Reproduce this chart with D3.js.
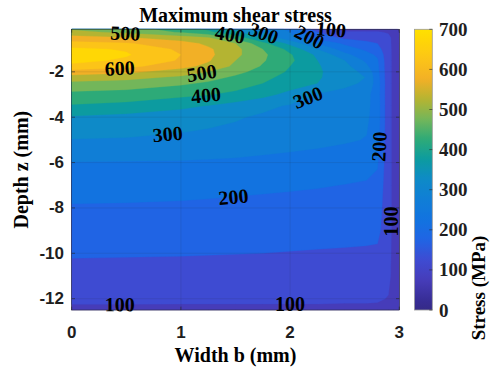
<!DOCTYPE html>
<html>
<head>
<meta charset="utf-8">
<script src="https://cdn.jsdelivr.net/npm/d3@7"></script>
<style>
  html, body { margin: 0; padding: 0; background: #fff; }
  svg { display: block; }
</style>
</head>
<body>
<svg id="chart" width="490" height="371"></svg>
<script>
// Sample positions of the stress field (rectilinear grid)
const widthB = [0, 0.5, 1.0, 1.25, 1.5, 1.75, 2.0, 2.25, 2.5, 2.7, 2.8, 2.9, 2.95, 3.0];
const depthZ = [-0.125, -0.25, -0.5, -0.75, -1.0, -1.25, -1.5, -1.75, -2.0, -2.25, -2.5,
                -3.0, -3.5, -4.0, -5.0, -6.0, -7.0, -8.0, -9.0, -10.0, -11.0, -12.0, -12.5];

// Maximum shear stress (MPa); one row per depth, one column per width position
const stressGrid = [
  [495, 475, 425, 390, 340, 280, 240, 120,  80,  78,  78,  72, 62, 45],
  [515, 488, 445, 412, 360, 295, 250, 150, 105, 105, 105,  95, 75, 50],
  [570, 555, 525, 505, 430, 345, 262, 180, 140, 135, 130, 112, 86, 55],
  [615, 605, 570, 540, 500, 415, 335, 250, 190, 160, 150, 113, 87, 55],
  [662, 645, 590, 558, 515, 450, 385, 300, 225, 190, 170, 114, 88, 55],
  [682, 655, 600, 562, 512, 460, 405, 340, 265, 215, 192, 115, 88, 55],
  [668, 640, 595, 555, 500, 455, 410, 350, 300, 240, 205, 115, 88, 55],
  [635, 615, 568, 535, 490, 445, 400, 355, 315, 258, 210, 115, 88, 55],
  [580, 562, 525, 500, 465, 430, 393, 357, 322, 285, 215, 115, 88, 55],
  [525, 515, 490, 468, 440, 412, 383, 355, 325, 298, 220, 115, 88, 55],
  [490, 480, 458, 443, 420, 400, 375, 350, 315, 290, 225, 115, 88, 55],
  [435, 428, 412, 402, 390, 365, 335, 296, 280, 265, 222, 115, 88, 55],
  [395, 385, 362, 348, 330, 312, 295, 282, 272, 262, 225, 115, 88, 55],
  [345, 335, 322, 315, 305, 292, 283, 275, 268, 258, 225, 115, 88, 55],
  [298, 296, 290, 285, 280, 274, 268, 262, 255, 248, 218, 115, 88, 55],
  [248, 247, 246, 244, 242, 238, 234, 230, 225, 218, 205, 115, 88, 55],
  [222, 220, 217, 215, 212, 209, 206, 203, 199, 195, 188, 115, 88, 55],
  [195, 194, 192, 190, 188, 186, 184, 182, 180, 178, 175, 115, 88, 55],
  [175, 174, 173, 172, 171, 170, 169, 168, 167, 166, 164, 115, 88, 55],
  [155, 154, 153, 152, 151, 150, 148, 146, 144, 142, 140, 113, 87, 55],
  [132, 131, 130, 129, 128, 127, 126, 125, 124, 123, 122, 110, 86, 55],
  [108, 108, 107, 107, 107, 107, 107, 107, 106, 106, 105,  98, 82, 52],
  [ 92,  92,  92,  92,  92,  92,  92,  92,  91,  91,  90,  88, 75, 50]
];

// Filled contour levels
const levels = [0, 50, 100, 150, 200, 250, 300, 350, 400, 450, 500, 550, 600, 650];

// Inline contour labels: level and approximate location (b, z)
const labelLevel = [500, 400, 300, 200, 100, 600, 500, 400, 300, 300, 200, 200, 100, 100, 100];
const labelB     = [0.49, 1.45, 1.75, 2.17, 2.33, 0.44, 1.19, 1.23, 0.88, 2.16, 2.82, 1.48, 2.92, 0.44, 2.0];
const labelZ     = [-0.4, -0.35, -0.4, -0.5, -0.3, -1.8, -2.05, -3.05, -4.8, -3.1, -5.3, -7.5, -8.6, -12.3, -12.3];

// Axis ticks
const xTicks = [0, 1, 2, 3];
const yTicks = [-2, -4, -6, -8, -10, -12];
const colorTicks = [0, 100, 200, 300, 400, 500, 600, 700];

// Colormap stops (MPa -> colour)
const cmapValues = [0, 25, 75, 125, 175, 225, 275, 325, 375, 425, 475, 525, 575, 625, 675, 700];
const cmapColors = ["#352a87", "#372d96", "#463cb9", "#3e4bd2", "#2064e4", "#1273e0", "#107ed6",
                    "#0e8ac8", "#0c9ba0", "#2daa78", "#73b65a", "#b4b432", "#f2b026", "#fcc418",
                    "#ffd705", "#ffe100"];

const svg = d3.select("#chart");
const plot = { left: 71.7, right: 399.3, top: 29.3, bottom: 310 };
const cbar = { left: 414.5, right: 432.3, top: 29.3, bottom: 310 };

const x = d3.scaleLinear().domain([0, 3]).range([plot.left, plot.right]);
const y = d3.scaleLinear().domain([-12.5, -0.125]).range([plot.bottom, plot.top]);
const cmap = d3.scaleLinear().domain(cmapValues).range(cmapColors).interpolate(d3.interpolateRgb).clamp(true);

// Grid index -> data coordinates (piecewise linear over the rectilinear grid)
const nx = widthB.length, ny = depthZ.length;
const bAt = d3.scaleLinear().domain(d3.range(nx)).range(widthB).clamp(true);
const zAt = d3.scaleLinear().domain(d3.range(ny)).range(depthZ).clamp(true);
const toPixel = p => [x(bAt(p[0] - 0.5)), y(zAt(p[1] - 0.5))];

const flat = stressGrid.flat();
const contourGen = d3.contours().size([nx, ny]).thresholds(levels);
const bands = contourGen(flat);

const path = d3.geoPath(d3.geoTransform({
  point(px, py) { const q = toPixel([px, py]); this.stream.point(q[0], q[1]); }
}));

// Filled bands
svg.append("g").selectAll("path")
  .data(bands)
  .join("path")
  .attr("d", path)
  .attr("fill", d => cmap(d.value + 25))
  .attr("stroke", d => cmap(d.value + 25))
  .attr("stroke-width", 0.3);

// Grid lines
const grid = svg.append("g").attr("stroke", "#262626").attr("stroke-opacity", 0.15).attr("stroke-width", 0.7);
xTicks.filter(t => t > 0 && t < 3).forEach(t => {
  grid.append("line").attr("x1", x(t)).attr("x2", x(t)).attr("y1", plot.top).attr("y2", plot.bottom);
});
yTicks.forEach(t => {
  grid.append("line").attr("x1", plot.left).attr("x2", plot.right).attr("y1", y(t)).attr("y2", y(t));
});

// Axes box and inward ticks
const axisColor = "#262626";
svg.append("rect")
  .attr("x", plot.left).attr("y", plot.top)
  .attr("width", plot.right - plot.left).attr("height", plot.bottom - plot.top)
  .attr("fill", "none").attr("stroke", axisColor).attr("stroke-width", 0.5);
const ticks = svg.append("g").attr("stroke", axisColor).attr("stroke-width", 0.6);
const tl = 3.3;
xTicks.forEach(t => {
  ticks.append("line").attr("x1", x(t)).attr("x2", x(t)).attr("y1", plot.bottom).attr("y2", plot.bottom - tl);
  ticks.append("line").attr("x1", x(t)).attr("x2", x(t)).attr("y1", plot.top).attr("y2", plot.top + tl);
});
yTicks.forEach(t => {
  ticks.append("line").attr("x1", plot.left).attr("x2", plot.left + tl).attr("y1", y(t)).attr("y2", y(t));
  ticks.append("line").attr("x1", plot.right).attr("x2", plot.right - tl).attr("y1", y(t)).attr("y2", y(t));
});

// Tick labels
const sans = "'Liberation Sans', Arial, sans-serif";
const serif = "'Liberation Serif', 'Times New Roman', serif";
svg.append("g").selectAll("text").data(xTicks).join("text")
  .attr("x", d => x(d)).attr("y", 338)
  .attr("text-anchor", "middle")
  .attr("font-family", sans).attr("font-weight", "bold").attr("font-size", 17)
  .attr("fill", "#1e1e1e")
  .text(d => d);
svg.append("g").selectAll("text").data(yTicks).join("text")
  .attr("x", 64).attr("y", d => y(d))
  .attr("text-anchor", "end").attr("dominant-baseline", "central")
  .attr("font-family", sans).attr("font-weight", "bold").attr("font-size", 17)
  .attr("fill", "#1e1e1e")
  .text(d => d);

// Titles
svg.append("text")
  .attr("x", (plot.left + plot.right) / 2).attr("y", 22)
  .attr("text-anchor", "middle")
  .attr("font-family", serif).attr("font-weight", "bold").attr("font-size", 20)
  .text("Maximum shear stress");
svg.append("text")
  .attr("x", (plot.left + plot.right) / 2).attr("y", 362)
  .attr("text-anchor", "middle")
  .attr("font-family", serif).attr("font-weight", "bold").attr("font-size", 20)
  .text("Width b (mm)");
svg.append("text")
  .attr("transform", `translate(28,${(plot.top + plot.bottom) / 2}) rotate(-90)`)
  .attr("text-anchor", "middle")
  .attr("font-family", serif).attr("font-weight", "bold").attr("font-size", 20)
  .text("Depth z (mm)");

// Contour labels, placed on the matching contour line and rotated along it
function labelPlacement(level, b, z) {
  const geom = d3.contours().size([nx, ny]).contour(flat, level);
  const tx = x(b), ty = y(z);
  const onEdge = (p, q) =>
    (Math.abs(p[0] - plot.left) < 0.01 && Math.abs(q[0] - plot.left) < 0.01) ||
    (Math.abs(p[0] - plot.right) < 0.01 && Math.abs(q[0] - plot.right) < 0.01) ||
    (Math.abs(p[1] - plot.top) < 0.01 && Math.abs(q[1] - plot.top) < 0.01) ||
    (Math.abs(p[1] - plot.bottom) < 0.01 && Math.abs(q[1] - plot.bottom) < 0.01);
  let best = null;
  geom.coordinates.forEach(poly => poly.forEach(ring => {
    const pts = ring.map(toPixel);
    const cum = [0];
    for (let i = 1; i < pts.length; i++) {
      cum.push(cum[i - 1] + Math.hypot(pts[i][0] - pts[i - 1][0], pts[i][1] - pts[i - 1][1]));
    }
    for (let i = 0; i < pts.length - 1; i++) {
      const p = pts[i], q = pts[i + 1];
      if (onEdge(p, q)) continue;
      const vx = q[0] - p[0], vy = q[1] - p[1];
      const len2 = vx * vx + vy * vy;
      if (len2 === 0) continue;
      let t = ((tx - p[0]) * vx + (ty - p[1]) * vy) / len2;
      t = Math.max(0, Math.min(1, t));
      const cx = p[0] + t * vx, cy = p[1] + t * vy;
      const d = Math.hypot(cx - tx, cy - ty);
      if (!best || d < best.d) best = { d, cx, cy, pts, cum, s: cum[i] + t * Math.sqrt(len2) };
    }
  }));
  if (!best) return { cx: tx, cy: ty, angle: 0 };
  const total = best.cum[best.cum.length - 1];
  const pointAt = s => {
    s = ((s % total) + total) % total;
    let i = d3.bisectRight(best.cum, s) - 1;
    i = Math.max(0, Math.min(best.pts.length - 2, i));
    const seg = best.cum[i + 1] - best.cum[i] || 1;
    const f = (s - best.cum[i]) / seg;
    return [best.pts[i][0] + f * (best.pts[i + 1][0] - best.pts[i][0]),
            best.pts[i][1] + f * (best.pts[i + 1][1] - best.pts[i][1])];
  };
  const a = pointAt(best.s - 9), c = pointAt(best.s + 9);
  let angle = Math.atan2(c[1] - a[1], c[0] - a[0]) * 180 / Math.PI;
  if (angle >= 90) angle -= 180;
  if (angle < -90) angle += 180;
  return { cx: best.cx, cy: best.cy, angle };
}

const labelGroup = svg.append("g");
labelLevel.forEach((lv, i) => {
  const pl = labelPlacement(lv, labelB[i], labelZ[i]);
  labelGroup.append("text")
    .attr("transform", `translate(${pl.cx},${pl.cy}) rotate(${pl.angle})`)
    .attr("text-anchor", "middle").attr("dominant-baseline", "central")
    .attr("font-family", serif).attr("font-weight", "bold").attr("font-size", 20)
    .attr("fill", "#000")
    .text(lv);
});

// Colorbar
const defs = svg.append("defs");
const grad = defs.append("linearGradient").attr("id", "cbGrad")
  .attr("x1", 0).attr("y1", 1).attr("x2", 0).attr("y2", 0);
d3.range(0, 701, 10).forEach(v => {
  grad.append("stop").attr("offset", v / 700).attr("stop-color", cmap(v));
});
const cy = d3.scaleLinear().domain([0, 700]).range([cbar.bottom, cbar.top]);
svg.append("rect")
  .attr("x", cbar.left).attr("y", cbar.top)
  .attr("width", cbar.right - cbar.left).attr("height", cbar.bottom - cbar.top)
  .attr("fill", "url(#cbGrad)")
  .attr("stroke", "#9a9a9a").attr("stroke-width", 0.8);
const cticks = svg.append("g").attr("stroke", axisColor).attr("stroke-width", 0.6);
colorTicks.forEach(t => {
  cticks.append("line").attr("x1", cbar.right).attr("x2", cbar.right - 3).attr("y1", cy(t)).attr("y2", cy(t));
});
svg.append("g").selectAll("text").data(colorTicks).join("text")
  .attr("x", 439).attr("y", d => cy(d))
  .attr("dominant-baseline", "central")
  .attr("font-family", serif).attr("font-weight", "bold").attr("font-size", 19)
  .attr("fill", "#1e1e1e")
  .text(d => d);
svg.append("text")
  .attr("transform", "translate(485,288) rotate(-90)")
  .attr("text-anchor", "middle")
  .attr("font-family", serif).attr("font-weight", "bold").attr("font-size", 19)
  .text("Stress (MPa)");
</script>
</body>
</html>
